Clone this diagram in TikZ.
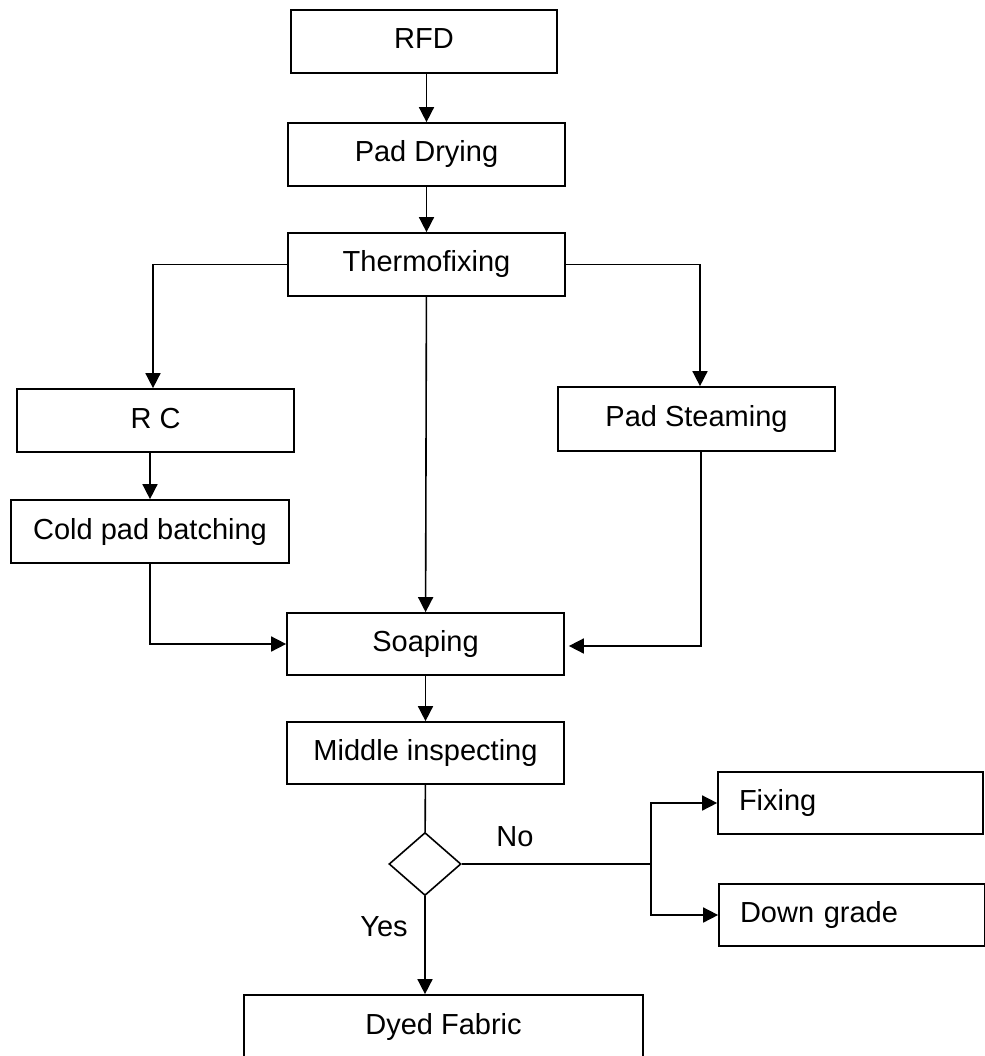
\documentclass[tikz,border=0pt]{standalone}
\usepackage{fontspec}
\setmainfont{Liberation Sans}
\usetikzlibrary{arrows.meta,shapes.geometric}
\begin{document}
\begin{tikzpicture}[x=1pt,y=-1pt,
  every node/.style={font=\fontsize{29pt}{34pt}\selectfont},
  box/.style={draw, line width=1.7pt, rectangle, inner sep=0pt, text height=21pt, text depth=6pt},
  leftbox/.style={box, align=left, inner xsep=21pt},
  lab/.style={inner sep=0pt, text height=21pt, text depth=0pt},
  arr/.style={line width=1.6pt, -{Triangle[length=15pt,width=15pt]}},
  ln/.style={line width=1.6pt}]
\useasboundingbox (0,0) rectangle (984,1056);

\node[box, minimum width=266pt, minimum height=63pt] (rfd) at (424,41.5) {RFD};
\node[box, minimum width=277pt, minimum height=63pt] (pad) at (426.5,154.5) {Pad Drying};
\node[box, minimum width=277pt, minimum height=63pt] (thermo) at (426.5,264.5) {Thermofixing};
\node[box, minimum width=277pt, minimum height=63pt] (rc) at (155.5,420.5) {R C};
\node[box, minimum width=277pt, minimum height=64pt] (steam) at (696.5,419) {Pad Steaming};
\node[box, minimum width=278pt, minimum height=63pt] (cold) at (150,531.5) {Cold pad batching};
\node[box, minimum width=277pt, minimum height=62pt] (soap) at (425.5,644) {Soaping};
\node[box, minimum width=277pt, minimum height=62pt] (mid) at (425.5,753) {Middle inspecting};
\node[diamond, draw, line width=1.6pt, minimum width=72pt, minimum height=63pt, inner sep=0pt] (dia) at (425,864) {};
\node[leftbox, minimum width=265pt, minimum height=62pt, text width=223pt] (fix) at (850.5,803) {Fixing};
\node[leftbox, minimum width=266pt, minimum height=62pt, text width=224pt] (down) at (852,915) {Down grade};
\node[box, minimum width=399pt, minimum height=63pt] (dyed) at (443.5,1026.5) {Dyed Fabric};

\node[lab] (no) at (515,836) {No};
\node[lab] (yes) at (384,926) {Yes};

\draw[arr] (pad.north |- rfd.south) -- (pad.north);
\draw[arr] (pad) -- (thermo);
\draw[arr] (thermo.west) -| ([xshift=-2.5pt]rc.north);
\draw[arr] (thermo.east) -| ([xshift=3.5pt]steam.north);
\draw[arr] (thermo) -- (soap);
\draw[arr] (cold.north |- rc.south) -- (cold.north);
\draw[arr] (cold.south) |- (soap.west);
\draw[arr, shorten >=4pt] ([xshift=4.5pt]steam.south) |- ([yshift=-2pt]soap.east);
\draw[arr] (soap) -- (mid);
\draw[ln] (mid) -- (dia);
\draw[arr] (dia.south) -- (dia.south |- dyed.north);
\coordinate (br) at (651,864);
\draw[ln] (dia.east) -- (br);
\draw[arr] (br) |- (fix.west);
\draw[arr] (br) |- (down.west);
\end{tikzpicture}
\end{document}
